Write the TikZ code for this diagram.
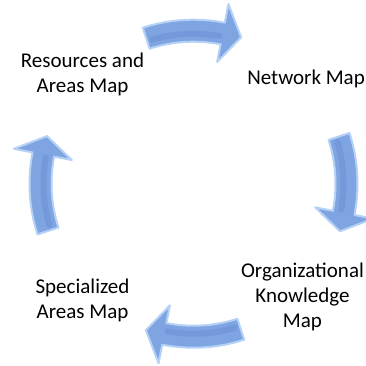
\documentclass[tikz,border=0pt]{standalone}
\usepackage{fontspec}
\setmainfont{Carlito}
\definecolor{arrowfill}{RGB}{126,164,226}
\definecolor{arrowedge}{RGB}{182,209,246}
\definecolor{arrowband}{RGB}{100,138,206}
\newcommand\cycarrow[3]{%
  \path[arrowshape] ([shift={(#1:164)}]C) arc[start angle=#1, end angle=#2, radius=164]
    -- ([shift={(#2:183)}]C) -- ([shift={(#3:154)}]C) -- ([shift={(#2:124)}]C)
    -- ([shift={(#2:142)}]C) arc[start angle=#2, end angle=#1, radius=142] -- cycle;
  \draw[arrowband] ([shift={(#1-2:150)}]C) arc[start angle=#1-2, end angle=#2+1, radius=150];
}
\begin{document}
\begin{tikzpicture}[x=1pt,y=1pt,
  lbl/.style={align=center,font=\fontsize{21}{25}\selectfont,inner sep=0pt,text=black},
  arrowshape/.style={fill=arrowfill,draw=arrowedge,line width=2pt,line join=round},
  arrowband/.style={draw=arrowband,line width=6pt,opacity=0.4,line cap=round}]
\useasboundingbox (0,0) rectangle (366,365);
\fill[white] (0,0) rectangle (366,365);
\coordinate (C) at (193.5,181.3);
\cycarrow{108}{79}{72}
\cycarrow{18}{-11}{-18}
\cycarrow{-72}{-101}{-108}
\cycarrow{198}{169}{162}
\node[lbl] (res) at (82.5,291) {Resources and\\Areas Map};
\node[lbl,anchor=east] (net) at (365,286) {Network Map};
\node[lbl] (org) at (302.5,68) {Organizational\\Knowledge\\Map};
\node[lbl] (spe) at (82.5,65) {Specialized\\Areas Map};
\end{tikzpicture}
\end{document}
